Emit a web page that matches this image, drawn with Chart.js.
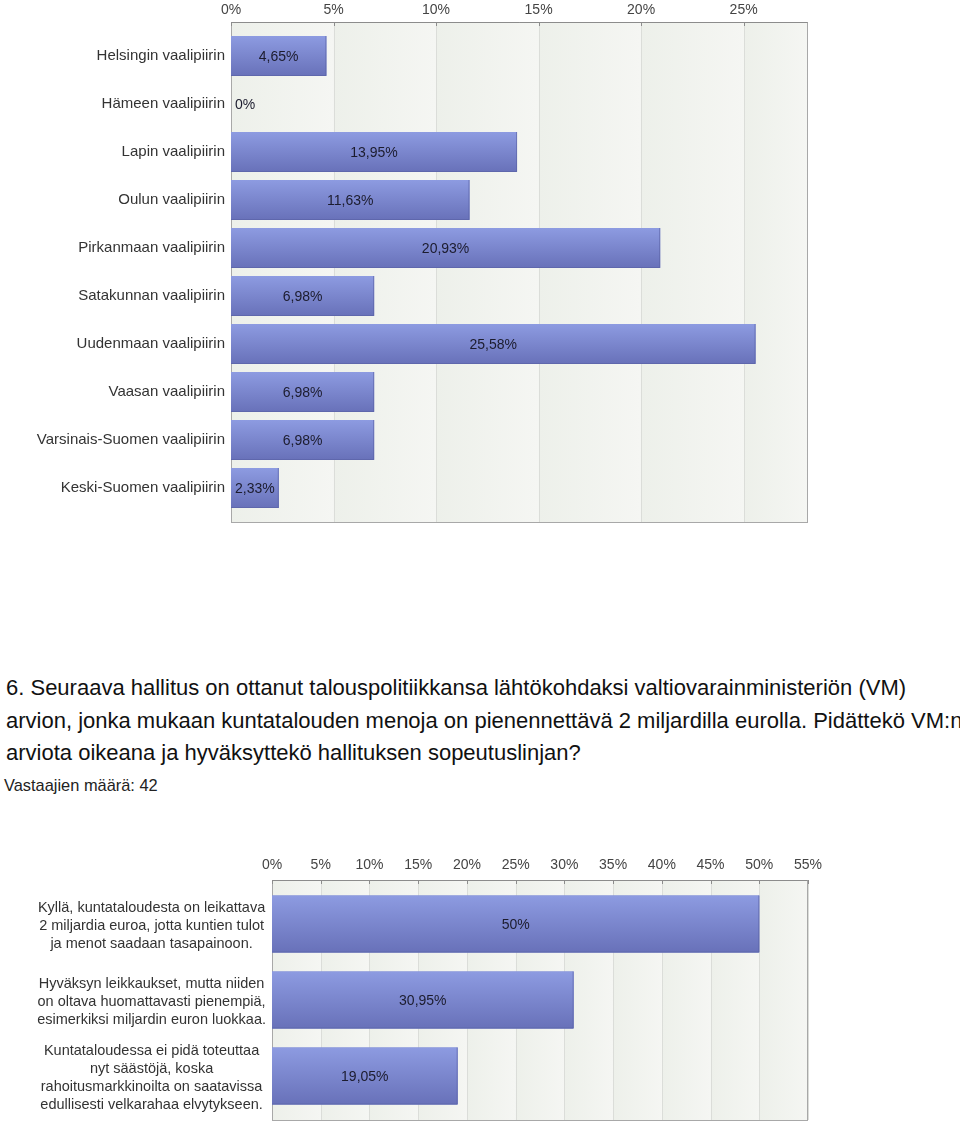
<!DOCTYPE html>
<html>
<head>
<meta charset="utf-8">
<script src="https://cdn.jsdelivr.net/npm/chart.js@4.4.0/dist/chart.umd.min.js"></script>
<style>
  body { margin: 0; background: #fff; font-family: 'Liberation Sans', Arial, sans-serif; }
  #page { position: relative; width: 960px; height: 1126px; overflow: hidden; }
  .box { position: absolute; left: 0; width: 960px; }
  #question { position: absolute; left: 6px; top: 672px; width: 1000px; font-size: 22px; line-height: 32.5px; color: #111; white-space: nowrap; }
  #count { position: absolute; left: 4px; top: 775px; font-size: 16.4px; line-height: 20px; color: #222; }
</style>
</head>
<body>
<div id="page">
  <div class="box" style="top:0;height:540px"><canvas id="districtChart"></canvas></div>
  <div id="question">6. Seuraava hallitus on ottanut talouspolitiikkansa lähtökohdaksi valtiovarainministeriön (VM)<br>arvion, jonka mukaan kuntatalouden menoja on pienennettävä 2 miljardilla eurolla. Pidättekö VM:n<br>arviota oikeana ja hyväksyttekö hallituksen sopeutuslinjan?</div>
  <div id="count">Vastaajien määrä: 42</div>
  <div class="box" style="top:840px;height:286px"><canvas id="answerChart"></canvas></div>
</div>
<script>
// Top chart: share per electoral district
const districts = [
    'Helsingin vaalipiirin', 'Hämeen vaalipiirin', 'Lapin vaalipiirin', 'Oulun vaalipiirin',
    'Pirkanmaan vaalipiirin', 'Satakunnan vaalipiirin', 'Uudenmaan vaalipiirin', 'Vaasan vaalipiirin',
    'Varsinais-Suomen vaalipiirin', 'Keski-Suomen vaalipiirin'
];
const districtShares = [4.65, 0, 13.95, 11.63, 20.93, 6.98, 25.58, 6.98, 6.98, 2.33];
const districtMax = 28.14;

// Bottom chart: answers to question 6
const answers = [
    ['Kyllä, kuntataloudesta on leikattava', '2 miljardia euroa, jotta kuntien tulot', 'ja menot saadaan tasapainoon.'],
    ['Hyväksyn leikkaukset, mutta niiden', 'on oltava huomattavasti pienempiä,', 'esimerkiksi miljardin euron luokkaa.'],
    ['Kuntataloudessa ei pidä toteuttaa', 'nyt säästöjä, koska', 'rahoitusmarkkinoilta on saatavissa', 'edullisesti velkarahaa elvytykseen.']
];
const answerShares = [50, 30.95, 19.05];
const answerMax = 55;

const tickStep = 5;
const FONT = "'Liberation Sans', Arial, sans-serif";

const fmt = v => String(v).replace('.', ',') + '%';

// background, grid, frame and the bars' gradient + value labels
const framePlugin = {
    id: 'frame',
    beforeDatasetsDraw(chart, args, opts) {
        const { ctx, chartArea: a, scales: { x } } = chart;
        const top = a.top - opts.pad, bottom = a.bottom + opts.pad;
        ctx.save();
        const ticks = x.ticks.map(t => t.value);
        const edges = ticks.concat([x.max]);
        for (let i = 0; i < edges.length - 1; i++) {
            const x0 = x.getPixelForValue(edges[i]);
            const x1 = x.getPixelForValue(edges[i + 1]);
            const g = ctx.createLinearGradient(x0, 0, x1, 0);
            g.addColorStop(0, '#edf0ea');
            g.addColorStop(1, '#f5f6f3');
            ctx.fillStyle = g;
            ctx.fillRect(x0, top, x1 - x0, bottom - top);
        }
        ctx.lineWidth = 1;
        ctx.strokeStyle = '#dbddd9';
        ticks.forEach(v => {
            if (v === 0) return;
            const px = Math.round(x.getPixelForValue(v)) + 0.5;
            ctx.beginPath(); ctx.moveTo(px, top); ctx.lineTo(px, bottom); ctx.stroke();
        });
        ctx.strokeStyle = '#a8a8a8';
        const l = Math.round(a.left) + 0.5, r = Math.round(a.right) - 0.5;
        ctx.strokeRect(l, Math.round(top) + 0.5, r - l, Math.round(bottom - top));
        ctx.strokeStyle = '#8c8c8c';
        ctx.beginPath(); ctx.moveTo(l, Math.round(top) + 0.5); ctx.lineTo(r, Math.round(top) + 0.5); ctx.stroke();
        ticks.forEach(v => {
            const px = Math.round(x.getPixelForValue(v)) + 0.5;
            ctx.beginPath(); ctx.moveTo(px, top); ctx.lineTo(px, top + 4); ctx.stroke();
        });
        ctx.restore();
    },
    afterDatasetsDraw(chart) {
        const { ctx, chartArea: a } = chart;
        const meta = chart.getDatasetMeta(0);
        const values = chart.data.datasets[0].data;
        ctx.save();
        meta.data.forEach((bar, i) => {
            const { x, y, base, height } = bar.getProps(['x', 'y', 'base', 'height'], true);
            const t = y - height / 2;
            if (x - base > 0.5) {
                const g = ctx.createLinearGradient(0, t, 0, t + height);
                g.addColorStop(0, '#8d9be1');
                g.addColorStop(1, '#6871b9');
                ctx.fillStyle = g;
                ctx.fillRect(base, t, x - base, height);
                // thin darker edge at the bottom and end of the bar
                ctx.strokeStyle = 'rgba(88,96,164,0.6)';
                ctx.lineWidth = 1;
                ctx.beginPath();
                ctx.moveTo(base, t + height - 0.5);
                ctx.lineTo(x - 0.5, t + height - 0.5);
                ctx.lineTo(x - 0.5, t);
                ctx.stroke();
            }
            const text = fmt(values[i]);
            ctx.font = '14px ' + FONT;
            const tw = ctx.measureText(text).width;
            const cx = Math.max((base + x) / 2, a.left + tw / 2 + 4);
            ctx.fillStyle = '#1c1c2e';
            ctx.textAlign = 'center';
            ctx.textBaseline = 'middle';
            ctx.fillText(text, cx, y + 1);
        });
        ctx.restore();
    }
};

function makeChart(id, labels, values, max, o) {
    return new Chart(document.getElementById(id), {
        type: 'bar',
        data: {
            labels: labels,
            datasets: [{
                data: values,
                backgroundColor: '#7a85cc',
                barPercentage: o.barPct,
                categoryPercentage: 1
            }]
        },
        options: {
            indexAxis: 'y',
            responsive: true,
            maintainAspectRatio: false,
            animation: false,
            layout: { padding: { top: 0, right: 960 - o.right, bottom: o.padBottom, left: 0 } },
            plugins: {
                legend: { display: false },
                tooltip: { enabled: false },
                frame: { pad: o.pad }
            },
            scales: {
                x: {
                    position: 'top',
                    min: 0,
                    max: max,
                    grid: { display: false, drawTicks: false },
                    border: { display: false },
                    ticks: {
                        stepSize: tickStep,
                        includeBounds: false,
                        padding: o.tickPad,
                        color: '#444',
                        font: { family: FONT, size: 14 },
                        callback: v => v + '%'
                    },
                    afterFit: s => { s.height = o.axisH; s.paddingLeft = 0; s.paddingRight = 0; }
                },
                y: {
                    grid: { display: false, drawTicks: false },
                    border: { display: false },
                    ticks: {
                        padding: 6,
                        color: '#333',
                        crossAlign: o.cross,
                        labelOffset: o.labelOffset,
                        font: { family: FONT, size: o.labelSize, lineHeight: o.lineH },
                        autoSkip: false
                    },
                    afterFit: s => { s.width = o.left; s.paddingTop = 0; s.paddingBottom = 0; }
                }
            }
        },
        plugins: [framePlugin]
    });
}

makeChart('districtChart', districts, districtShares, districtMax, {
    left: 231, right: 808, axisH: 32, padBottom: 28, pad: 10, tickPad: 13,
    barPct: 40 / 48, cross: 'near', labelSize: 15, lineH: 1.2, labelOffset: 0
});

makeChart('answerChart', answers, answerShares, answerMax, {
    left: 272, right: 808, axisH: 46, padBottom: 12, pad: 6, tickPad: 12,
    barPct: 57 / 76, cross: 'center', labelSize: 14.5, lineH: 1.24, labelOffset: 2
});
</script>
</body>
</html>
